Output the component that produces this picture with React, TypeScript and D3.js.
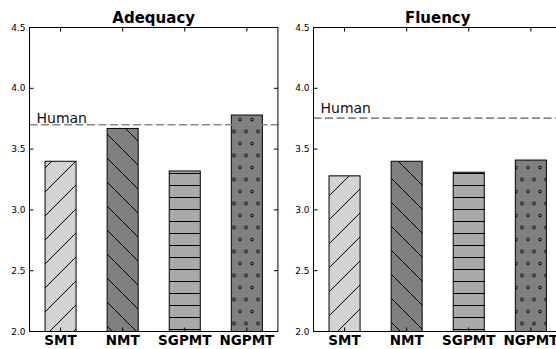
import * as d3 from "d3";

const categories = ["SMT", "NMT", "SGPMT", "NGPMT"];
const adequacy = [3.4, 3.67, 3.32, 3.78];
const fluency = [3.28, 3.4, 3.31, 3.41];
const panelTitles = ["Adequacy", "Fluency"];
const humanScore = [3.7, 3.755];
const humanLabelAt = [3.715, 3.8];
const yTicks = [2.0, 2.5, 3.0, 3.5, 4.0, 4.5];

const barFills = ["#d3d3d3", "#808080", "#a9a9a9", "#808080"];
const hatchIds = ["hatch-ne", "hatch-nw", "hatch-h", "hatch-o"];

const W = 556;
const H = 349;
const panelLeft = [29.5, 313.5];
const panelW = 248.4;
const top = 27.5;
const bottom = 331.5;

const y = d3.scaleLinear().domain([2.0, 4.5]).range([bottom, top]);

function Panel({ idx, values }: { idx: number; values: number[] }) {
  const x0 = panelLeft[idx];
  const x = d3
    .scaleBand()
    .domain(categories)
    .range([x0, x0 + panelW])
    .paddingInner(0.5)
    .paddingOuter(0.25);
  const cx = (c: string) => (x(c) as number) + x.bandwidth() / 2;
  const fmt = d3.format(".1f");
  const hy = y(humanScore[idx]);
  return (
    <g>
      {values.map((v, i) => {
        const c = categories[i];
        const bx = x(c) as number;
        const by = y(v);
        return (
          <g key={c}>
            <rect x={bx} y={by} width={x.bandwidth()} height={bottom - by} fill={barFills[i]} />
            <rect x={bx} y={by} width={x.bandwidth()} height={bottom - by} fill={`url(#${hatchIds[i]})`} />
            <rect x={bx} y={by} width={x.bandwidth()} height={bottom - by} fill="none" stroke="#000" strokeWidth={1} />
          </g>
        );
      })}
      <line x1={x0} x2={x0 + panelW} y1={hy} y2={hy} stroke="#888" strokeWidth={1.6} strokeDasharray="8,3.5" />
      <text x={x0 + 7} y={y(humanLabelAt[idx])} fontFamily="DejaVu Sans" fontSize={14} fill="#111">
        Human
      </text>
      {/* spines */}
      <rect x={x0} y={top} width={panelW} height={bottom - top} fill="none" stroke="#000" strokeWidth={1} />
      {/* y ticks */}
      {yTicks.map((t) => (
        <g key={t}>
          <line x1={x0} x2={x0 + 4} y1={y(t)} y2={y(t)} stroke="#000" />
          <line x1={x0 + panelW - 4} x2={x0 + panelW} y1={y(t)} y2={y(t)} stroke="#000" />
          <text x={x0 - 4} y={y(t) + 3} textAnchor="end" fontFamily="DejaVu Sans" fontSize={9} fill="#000">
            {fmt(t)}
          </text>
        </g>
      ))}
      {/* x ticks */}
      {categories.map((c) => (
        <g key={c}>
          <line x1={cx(c)} x2={cx(c)} y1={bottom} y2={bottom - 4} stroke="#000" />
          <line x1={cx(c)} x2={cx(c)} y1={top} y2={top + 4} stroke="#000" />
          <text x={cx(c)} y={bottom + 13} textAnchor="middle" fontFamily="DejaVu Sans" fontWeight="bold" fontSize={13.5} fill="#000">
            {c}
          </text>
        </g>
      ))}
      <text x={x0 + panelW / 2} y={top - 4.5} textAnchor="middle" fontFamily="DejaVu Sans" fontWeight="bold" fontSize={15} fill="#000">
        {panelTitles[idx]}
      </text>
    </g>
  );
}

export default function App() {
  return (
    <svg width={W} height={H} style={{ position: "absolute", left: 0, top: 0, background: "#fff" }}>
      <defs>
        <pattern id="hatch-ne" patternUnits="userSpaceOnUse" x={0} y={0} width={24} height={24}>
          <path d="M-2,23L23,-2M20,25L25,20M-2,-1L-1,-2" stroke="#000" strokeWidth={1} />
        </pattern>
        <pattern id="hatch-nw" patternUnits="userSpaceOnUse" x={0} y={0} width={24} height={24}>
          <path d="M-2,1L23,26M19,-2L26,5" stroke="#000" strokeWidth={1} />
        </pattern>
        <pattern id="hatch-h" patternUnits="userSpaceOnUse" x={0} y={0} width={12} height={12}>
          <path d="M0,5.5L12,5.5" stroke="#000" strokeWidth={1} />
        </pattern>
        <pattern id="hatch-o" patternUnits="userSpaceOnUse" x={0} y={0} width={12} height={24}>
          {[
            [0, 23.5],
            [12, 23.5],
            [0, -0.5],
            [12, -0.5],
            [6, 11.5],
          ].map(([px, py], i) => (
            <circle key={i} cx={px} cy={py} r={1.4} fill="none" stroke="#000" strokeWidth={0.9} />
          ))}
        </pattern>
      </defs>
      <rect x={0} y={0} width={W} height={H} fill="#fff" />
      <Panel idx={0} values={adequacy} />
      <Panel idx={1} values={fluency} />
    </svg>
  );
}
